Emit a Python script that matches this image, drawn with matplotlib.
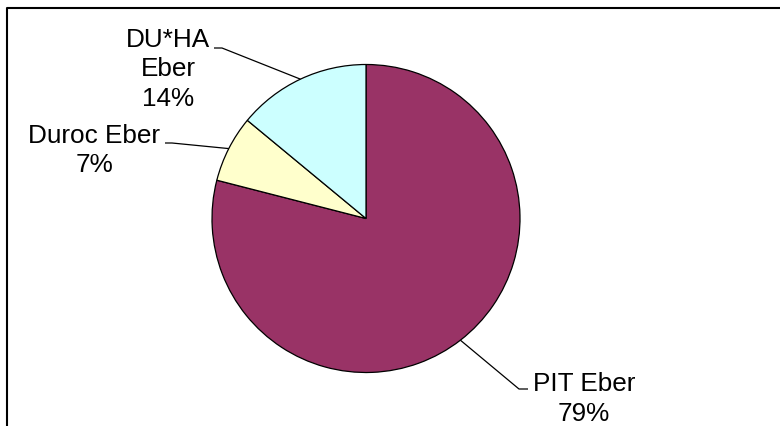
import numpy as np
import matplotlib.pyplot as plt
from matplotlib.lines import Line2D

# Data
labels = ['PIT Eber', 'Duroc Eber', 'DU*HA\nEber']
shares = [79, 7, 14]
colors = ['#993366', '#FFFFCC', '#CCFFFF']

W, H = 780, 427
fig = plt.figure(figsize=(W / 100, H / 100), dpi=100)
ax = fig.add_axes([0, 0, 1, 1])

cx, cy, r = 366, H - 219.5, 154
wedges, _ = ax.pie(shares, colors=colors, startangle=90, counterclock=False,
                   center=(cx, cy), radius=r, frame=True,
                   wedgeprops=dict(edgecolor='black', linewidth=0.9))
ax.set_xlim(0, W)
ax.set_ylim(0, H)
ax.set_aspect('equal')
ax.axis('off')

# label text centre and leader elbow (pixels, y from top)
text_pos = [(584, 399), (94, 150.5), (168, 69.5)]
elbows = [[(528, 390), (519, 390)], [(165, 144), (172, 144)], [(214, 49), (222, 49)]]

for w, lab, s, (tx, ty), elb in zip(wedges, labels, shares, text_pos, elbows):
    mid = np.deg2rad((w.theta1 + w.theta2) / 2)
    ex, ey = cx + r * np.cos(mid), cy + r * np.sin(mid)
    xs = [p[0] for p in elb] + [ex]
    ys = [H - p[1] for p in elb] + [ey]
    ax.plot(xs, ys, color='black', linewidth=0.9, solid_capstyle='butt')
    ax.text(tx, H - ty, f'{lab}\n{s}%', ha='center', va='center',
            fontsize=18.8, family='Liberation Sans', linespacing=1.3)

# chart area border (left and top only visible)
fig.add_artist(Line2D([7 / W, 7 / W, 1], [0, 1 - 9 / H, 1 - 9 / H],
                      transform=fig.transFigure, color='black', linewidth=1.5))

fig.savefig('out.png', dpi=100)
